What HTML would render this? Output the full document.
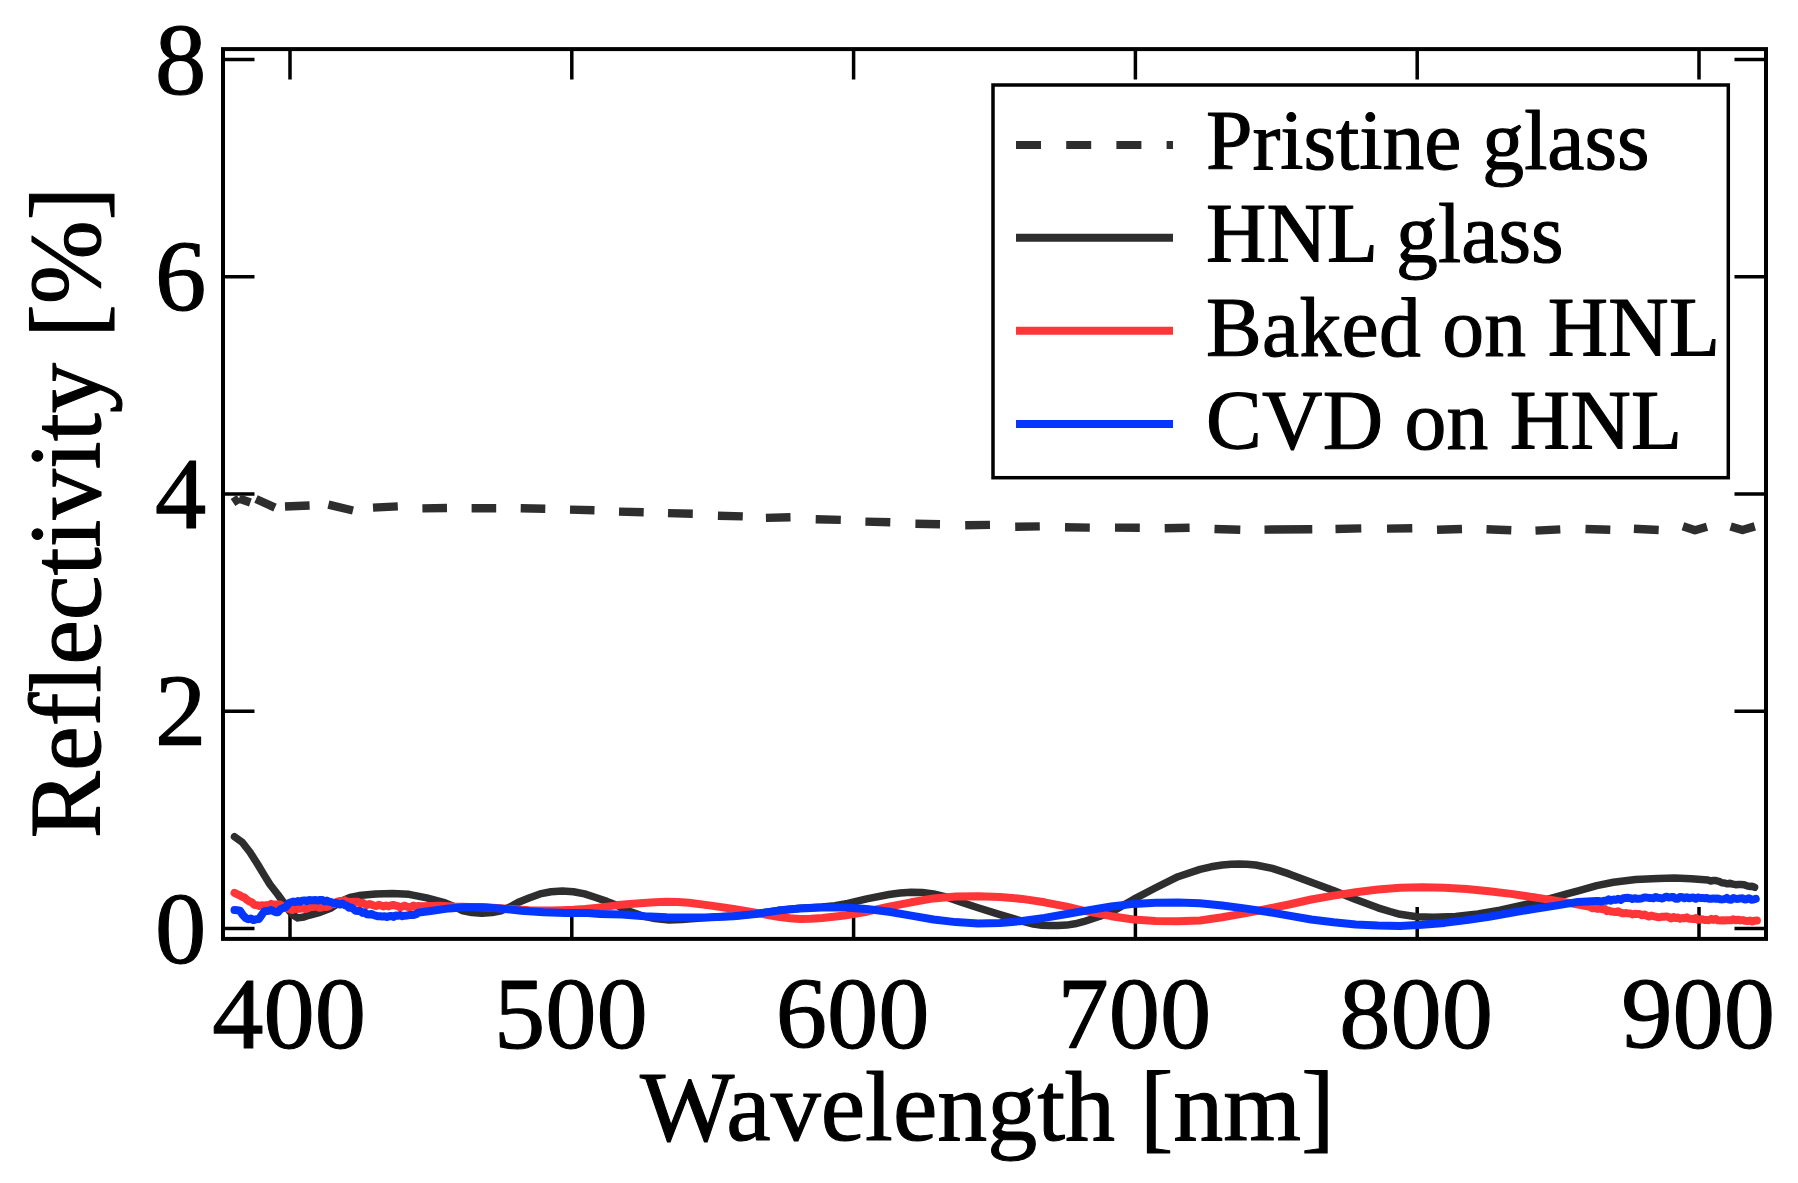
<!DOCTYPE html>
<html lang="en"><head><meta charset="utf-8"><title>Reflectivity vs Wavelength</title>
<style>
html,body{margin:0;padding:0;background:#fff;}
body{width:1798px;height:1183px;overflow:hidden;position:relative;}
svg{position:absolute;left:0;top:0;display:block;}
text{font-family:"Liberation Serif",serif;fill:#000;stroke:#000;stroke-width:1.1px;stroke-linejoin:round;}
.tk{font-size:101px;} .dg{font-size:102.5px;} .lg{font-size:83.6px;}
</style></head><body>
<svg width="1798" height="1183" viewBox="0 0 1798 1183">
<rect x="0" y="0" width="1798" height="1183" fill="#ffffff"/>
<path d="M290.0 49.1v30.5M290.0 938.9v-32M571.8 49.1v30.5M571.8 938.9v-32M853.6 49.1v30.5M853.6 938.9v-32M1135.4 49.1v30.5M1135.4 938.9v-32M1417.2 49.1v30.5M1417.2 938.9v-32M1699.0 49.1v30.5M1699.0 938.9v-32M223.0 928.5h31.5M1766.0 928.5h-31.5M223.0 711.2h31.5M1766.0 711.2h-31.5M223.0 493.9h31.5M1766.0 493.9h-31.5M223.0 276.7h31.5M1766.0 276.7h-31.5M223.0 59.4h31.5M1766.0 59.4h-31.5" fill="none" stroke="#000" stroke-width="3.5"/>
<rect x="223.0" y="49.1" width="1543.0" height="889.8" fill="none" stroke="#000" stroke-width="4.0"/>
<g fill="none" stroke-linejoin="round" stroke-linecap="butt">
<polyline points="234.5,836.7 242.2,842.2 250.0,852.3 257.8,864.5 264.5,875.6 270.0,884.5 277.8,894.5 283.4,902.3 289.0,910.5 293.0,915.0 297.9,917.9 304.0,917.0 309.0,915.3 320.0,912.3 331.2,907.9 342.4,900.6 350.0,897.5 359.0,895.6 375.7,894.0 392.4,893.4 409.0,894.3 426.7,897.9 443.4,902.3 455.0,907.0 462.0,910.5 472.0,912.6 482.0,913.2 492.0,912.6 501.0,910.8 510.0,907.0 517.9,902.5 529.0,898.0 540.0,893.9 551.0,891.7 562.4,890.9 573.5,891.7 584.6,893.9 595.7,897.5 606.9,901.4 618.0,905.8 620.0,907.0 630.0,911.5 642.0,915.8 655.0,918.6 669.0,920.0 682.0,919.6 694.5,918.6 711.0,917.3 733.5,916.0 755.7,913.8 778.0,910.6 800.0,908.2 822.0,907.0 835.0,905.8 847.8,903.4 866.7,898.9 889.0,894.5 900.0,893.0 911.2,892.3 922.4,892.5 933.5,893.9 947.0,897.2 961.3,902.3 978.0,907.8 1000.0,914.6 1011.0,917.9 1022.0,921.2 1033.4,924.0 1042.0,925.2 1050.0,925.6 1058.0,925.6 1066.7,925.1 1075.0,923.8 1083.4,921.7 1100.0,916.2 1116.8,909.0 1133.5,899.4 1155.7,887.8 1178.0,876.7 1200.0,869.4 1211.0,866.8 1222.2,865.0 1231.0,864.2 1239.0,863.9 1247.0,864.2 1255.6,865.0 1272.3,868.4 1289.0,873.9 1311.2,882.3 1333.5,890.6 1355.7,899.5 1378.0,907.8 1390.0,911.5 1400.0,914.3 1416.7,916.7 1433.4,917.3 1455.6,916.5 1477.9,914.0 1500.0,910.1 1522.4,905.1 1544.6,900.1 1566.9,893.9 1580.0,890.4 1596.7,885.6 1613.4,882.3 1635.6,879.5 1657.9,878.4 1674.6,878.0 1691.2,878.7 1707.9,880.0 1710.6,881.0 1713.3,880.5 1716.0,880.6 1718.9,881.3 1721.7,882.8 1724.6,883.0 1727.3,883.8 1730.0,883.2 1732.8,884.1 1735.7,884.7 1738.3,884.5 1741.0,884.6 1744.0,884.7 1746.9,885.8 1749.5,886.4 1752.0,886.3 1754.6,887.3" stroke="#2e2e2e" stroke-width="7.5" stroke-linecap="round"/>
<polyline points="234.5,892.9 237.1,894.2 239.6,895.2 242.2,896.8 244.5,897.4 246.7,899.7 249.0,901.2 251.6,902.2 254.1,904.7 256.7,905.1 259.2,906.0 261.7,905.2 264.2,905.6 266.7,905.1 268.9,905.6 271.1,903.9 273.4,905.0 275.6,904.4 277.8,904.5 280.2,904.5 282.6,906.1 285.0,907.0 287.4,908.5 289.9,909.0 292.3,910.1 294.5,908.9 296.7,908.9 299.0,908.7 301.2,908.4 303.4,908.4 305.6,909.1 307.9,908.2 310.1,906.9 312.4,906.8 314.6,906.8 316.8,906.3 319.0,907.8 321.3,907.7 323.5,906.7 325.7,907.0 328.5,906.3 331.2,904.6 334.0,904.0 336.8,901.9 339.6,901.0 342.4,901.0 344.6,900.2 346.8,902.1 349.1,901.8 351.3,901.9 353.5,901.8 355.7,901.8 357.9,901.8 360.2,903.7 362.4,902.6 364.6,904.0 367.0,904.9 369.4,904.0 371.8,904.7 374.1,905.6 376.5,906.1 378.9,904.8 381.3,905.7 383.7,906.4 386.1,905.4 388.5,906.4 390.8,905.4 393.2,905.0 395.6,905.6 398.0,906.2 400.2,907.3 402.4,906.5 404.6,905.6 406.8,906.6 409.0,907.2 411.2,907.0 413.4,905.5 415.6,907.2 417.8,905.9 420.0,906.2 432.0,906.0 440.0,905.7 453.0,906.5 470.0,907.0 484.5,907.3 500.0,908.2 515.0,909.3 529.0,910.3 550.0,910.6 562.0,910.3 573.5,909.8 585.0,909.0 595.7,907.9 607.0,906.6 618.0,905.1 630.0,904.1 640.0,903.3 655.0,902.2 666.7,901.7 678.0,902.0 689.0,902.8 711.2,905.6 733.5,909.0 755.7,912.8 778.0,916.7 790.0,918.2 800.0,919.0 811.0,918.8 822.2,917.9 844.5,915.6 866.7,911.7 889.0,906.7 911.2,902.3 933.5,898.4 955.7,896.5 978.0,896.2 1000.0,897.0 1022.2,898.9 1044.5,902.3 1066.7,906.7 1083.4,910.6 1111.2,916.2 1133.5,919.5 1155.7,921.0 1178.0,921.2 1200.0,920.5 1222.2,917.3 1244.5,913.4 1266.7,909.0 1289.0,904.5 1311.2,899.5 1333.5,895.6 1355.7,892.3 1378.0,889.5 1400.0,887.8 1422.2,887.3 1444.5,887.8 1466.7,888.9 1489.0,891.2 1511.2,893.9 1533.5,897.3 1555.7,900.6 1578.0,904.5 1590.0,906.8 1592.5,908.3 1595.0,907.6 1597.5,908.9 1600.0,908.6 1602.2,909.3 1604.5,908.7 1606.7,911.1 1608.9,910.5 1611.2,911.6 1613.4,911.7 1615.8,912.1 1618.1,911.3 1620.5,912.7 1622.9,913.4 1625.3,913.1 1627.6,913.3 1630.0,913.4 1632.4,914.4 1634.8,913.8 1637.2,914.0 1639.5,913.9 1641.9,915.3 1644.3,914.4 1646.7,915.6 1648.9,916.6 1651.2,915.5 1653.4,916.1 1655.6,916.6 1657.8,917.2 1660.1,917.2 1662.3,916.7 1664.5,916.7 1666.8,916.4 1669.0,917.3 1671.2,918.5 1673.4,917.0 1675.7,918.0 1677.9,917.5 1680.1,918.7 1682.3,918.0 1684.5,918.3 1686.8,917.3 1689.0,918.8 1691.2,918.7 1693.4,919.1 1695.7,918.0 1697.9,919.8 1700.1,919.4 1702.3,919.3 1704.6,920.0 1706.8,920.0 1709.0,920.2 1711.3,918.8 1713.5,919.9 1715.7,918.9 1717.9,920.3 1720.2,920.4 1722.4,920.2 1724.6,920.5 1726.8,920.3 1729.0,920.2 1731.3,920.2 1733.5,919.3 1735.7,920.3 1738.1,919.7 1740.4,920.4 1742.8,920.1 1745.1,920.8 1747.5,921.1 1749.8,920.6 1752.2,921.5 1754.5,920.8 1756.9,920.6" stroke="#ff3538" stroke-width="8.0" stroke-linecap="round"/>
<polyline points="234.5,910.1 237.2,910.3 240.0,910.7 242.8,915.0 245.6,917.9 248.2,919.3 250.8,918.5 253.4,920.1 256.1,919.2 258.9,919.0 261.7,915.0 264.5,911.2 266.7,911.1 269.0,910.8 271.2,910.1 273.4,911.2 275.6,912.2 277.8,912.3 280.6,909.1 283.4,907.9 286.0,906.9 288.6,903.3 291.2,902.3 293.4,901.6 295.6,902.1 297.8,901.1 300.0,901.8 302.2,900.7 304.5,900.4 306.8,901.2 309.0,900.1 311.2,900.2 313.4,900.2 315.7,900.0 317.9,900.6 320.1,899.9 322.4,899.9 324.6,901.5 326.8,900.6 329.0,901.6 331.2,902.1 333.5,903.2 335.7,902.9 337.9,903.5 340.1,904.6 342.4,903.5 344.6,905.1 346.8,905.7 349.1,907.8 351.3,907.4 353.5,909.0 355.7,910.8 357.9,911.1 360.2,910.9 362.4,912.9 364.6,912.3 366.9,914.3 369.1,914.5 371.3,914.0 373.5,915.0 375.8,915.7 378.0,916.3 380.2,916.2 382.4,916.5 384.6,916.3 386.8,917.1 389.0,916.2 391.2,915.9 393.5,917.0 395.8,915.4 398.0,915.7 400.2,914.9 402.4,916.2 404.6,915.7 406.8,915.5 409.0,915.1 411.4,915.0 413.8,914.9 416.2,914.2 418.6,912.5 421.0,912.3 432.2,910.7 449.0,908.4 465.6,907.3 482.3,907.3 499.0,908.4 521.2,910.7 543.5,912.3 565.7,912.9 588.0,912.9 600.0,914.0 622.2,914.5 644.5,916.2 666.7,917.3 689.0,917.6 711.2,917.3 733.5,916.2 755.7,914.0 778.0,910.6 800.0,908.4 822.2,907.6 844.5,907.6 866.7,909.0 889.0,911.7 911.2,915.6 933.5,919.5 955.7,922.1 978.0,923.4 1000.0,923.1 1022.2,921.0 1044.5,917.9 1066.7,914.0 1089.0,910.1 1111.2,906.5 1133.5,903.9 1155.7,902.8 1178.0,902.6 1200.0,903.3 1222.2,905.6 1244.5,908.4 1266.7,911.7 1289.0,915.6 1311.2,919.5 1333.5,922.3 1355.7,924.5 1378.0,925.6 1400.0,925.9 1422.2,924.7 1444.5,922.9 1466.7,920.1 1489.0,916.7 1511.2,912.8 1533.5,909.0 1555.7,905.6 1578.0,901.9 1596.7,901.0 1599.1,901.1 1601.5,901.5 1603.9,900.8 1606.2,900.8 1608.6,899.3 1611.0,900.7 1613.4,899.5 1615.8,899.9 1618.1,898.8 1620.5,900.0 1622.9,898.5 1625.3,897.9 1627.6,897.8 1630.0,898.1 1632.4,899.0 1634.8,898.2 1637.2,898.8 1639.5,898.7 1641.9,898.4 1644.3,897.4 1646.7,897.6 1648.9,897.9 1651.2,898.1 1653.4,898.2 1655.6,896.9 1657.8,897.8 1660.1,898.0 1662.3,898.6 1664.5,897.4 1666.8,896.7 1669.0,897.6 1671.2,897.1 1673.4,897.0 1675.7,898.7 1677.9,898.7 1680.1,896.9 1682.3,897.3 1684.5,898.2 1686.8,897.3 1689.0,898.2 1691.2,897.8 1693.4,897.5 1695.7,898.8 1697.9,897.4 1700.1,898.0 1702.3,897.9 1704.6,898.2 1706.8,898.0 1709.0,898.8 1711.3,898.8 1713.5,898.4 1715.7,898.8 1717.9,898.4 1720.2,899.3 1722.4,899.4 1724.6,899.1 1726.8,897.9 1729.0,899.5 1731.3,899.7 1733.5,898.0 1735.7,898.7 1737.9,898.9 1740.1,898.4 1742.4,898.3 1744.6,899.5 1746.8,899.2 1749.0,898.2 1751.3,899.8 1753.5,899.5 1755.7,898.9" stroke="#0436ff" stroke-width="8.0" stroke-linecap="round"/>
<path d="M233.0 502.5L239.0 498.5M239.0 498.5L250.4 502.5M256.0 499.0L275.0 507.6M285.0 506.5L309.6 505.5M328.4 504.7L353.0 510.5M373.0 507.6L397.8 506.4M422.4 508.4L447.0 508.0M471.6 508.2L496.2 508.2M520.7 508.3L545.3 508.8M570.0 509.6L594.5 510.2M619.0 511.6L643.7 512.2M668.0 513.1L692.8 513.7M717.9 515.7L742.8 516.4M765.9 517.9L790.5 517.3M815.7 519.3L840.8 519.9M865.4 521.6L890.3 522.2M915.4 523.8L940.0 524.2M965.2 525.3L990.0 524.9M1015.2 526.8L1039.8 526.4M1065.0 527.3L1089.8 527.6M1115.0 527.6L1139.8 527.8M1164.7 528.2L1189.6 527.8M1214.5 529.0L1240.3 529.8M1264.5 529.6L1312.3 529.2M1335.5 529.0L1361.3 528.4M1387.0 528.6L1412.3 528.2M1437.0 529.8L1462.0 529.0M1486.5 529.2L1511.3 530.2M1535.5 530.6L1560.3 529.4M1585.5 529.0L1610.3 529.8M1633.9 528.8L1658.7 530.0M1682.9 526.2L1695.0 530.2L1707.0 526.8M1730.6 526.4L1742.5 530.0L1754.8 526.4" stroke="#2e2e2e" stroke-width="8.4"/>
</g>
<text class="dg" x="289.0" y="1047.6" text-anchor="middle">400</text>
<text class="dg" x="570.8" y="1047.6" text-anchor="middle">500</text>
<text class="dg" x="852.6" y="1047.6" text-anchor="middle">600</text>
<text class="dg" x="1134.4" y="1047.6" text-anchor="middle">700</text>
<text class="dg" x="1416.2" y="1047.6" text-anchor="middle">800</text>
<text class="dg" x="1698.0" y="1047.6" text-anchor="middle">900</text>
<text class="dg" x="206.3" y="962.7" text-anchor="end">0</text>
<text class="dg" x="206.3" y="745.4" text-anchor="end">2</text>
<text class="dg" x="206.3" y="528.1" text-anchor="end">4</text>
<text class="dg" x="206.3" y="310.9" text-anchor="end">6</text>
<text class="dg" x="206.3" y="93.6" text-anchor="end">8</text>
<text class="tk" style="font-size:100px" x="987.2" y="1140.3" text-anchor="middle">Wavelength [nm]</text>
<text class="tk" style="font-size:100.7px" transform="translate(99.5 512.5) rotate(-90)" text-anchor="middle">Reflectivity [%]</text>
<rect x="993" y="85" width="735.3" height="392.7" fill="#fff" stroke="#000" stroke-width="3.5"/>
<line x1="1016" y1="145" x2="1173" y2="145" stroke="#2e2e2e" stroke-width="8.0" stroke-dasharray="25 25.2"/>
<text class="lg" x="1206" y="169.2" style="letter-spacing:0px">Pristine glass</text>
<line x1="1016" y1="237.7" x2="1173" y2="237.7" stroke="#2e2e2e" stroke-width="8.0"/>
<text class="lg" x="1206" y="262.4" style="letter-spacing:0.1px">HNL glass</text>
<line x1="1016" y1="330.8" x2="1173" y2="330.8" stroke="#ff3538" stroke-width="8.0"/>
<text class="lg" x="1206" y="356.2" style="letter-spacing:0.3px">Baked on HNL</text>
<line x1="1016" y1="424.0" x2="1173" y2="424.0" stroke="#0436ff" stroke-width="8.0"/>
<text class="lg" x="1206" y="448.9" style="letter-spacing:0.27px">CVD on HNL</text>
</svg>
</body></html>
